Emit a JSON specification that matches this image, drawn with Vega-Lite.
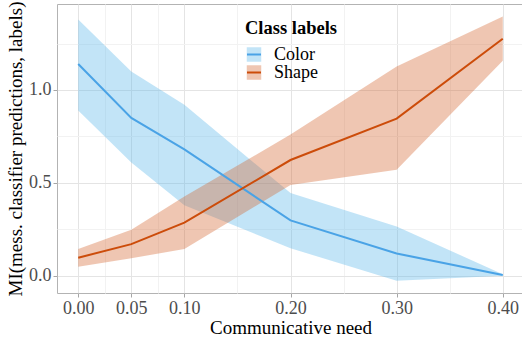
{
  "$schema": "https://vega.github.io/schema/vega-lite/v6.json",
  "width": 467,
  "height": 289,
  "autosize": {"type": "none"},
  "padding": {"left": 57, "top": 4, "right": 0, "bottom": 47},
  "background": "white",
  "config": {
    "font": "Liberation Serif, serif",
    "view": {"stroke": "#B3B3B3", "strokeWidth": 1},
    "axis": {
      "domain": false,
      "labelFont": "Liberation Serif, serif",
      "titleFont": "Liberation Serif, serif",
      "labelFontSize": 18,
      "titleFontSize": 19,
      "labelColor": "#4D4D4D",
      "titleColor": "#000000",
      "titleFontWeight": "normal",
      "tickColor": "#A6A6A6",
      "tickSize": 4,
      "labelPadding": 2,
      "gridColor": "#E4E4E4",
      "gridWidth": 1
    },
    "legend": {
      "labelFont": "Liberation Serif, serif",
      "titleFont": "Liberation Serif, serif",
      "labelFontSize": 18,
      "titleFontSize": 18.5,
      "titleFontWeight": "bold",
      "titleColor": "#000000",
      "labelColor": "#000000",
      "padding": 0,
      "titlePadding": 8,
      "labelOffset": 11
    }
  },
  "data": {
    "values": [
      {"series": "Color", "need": 0.0, "mean": 1.14, "lo": 0.89, "hi": 1.38},
      {"series": "Color", "need": 0.05, "mean": 0.85, "lo": 0.61, "hi": 1.1},
      {"series": "Color", "need": 0.1, "mean": 0.68, "lo": 0.38, "hi": 0.92},
      {"series": "Color", "need": 0.2, "mean": 0.298, "lo": 0.148, "hi": 0.445},
      {"series": "Color", "need": 0.3, "mean": 0.12, "lo": -0.027, "hi": 0.265},
      {"series": "Color", "need": 0.4, "mean": 0.004, "lo": 0.0, "hi": 0.008},
      {"series": "Shape", "need": 0.0, "mean": 0.097, "lo": 0.049, "hi": 0.144},
      {"series": "Shape", "need": 0.05, "mean": 0.17, "lo": 0.094, "hi": 0.247},
      {"series": "Shape", "need": 0.1, "mean": 0.286, "lo": 0.144, "hi": 0.426},
      {"series": "Shape", "need": 0.2, "mean": 0.623, "lo": 0.489, "hi": 0.76},
      {"series": "Shape", "need": 0.3, "mean": 0.846, "lo": 0.571, "hi": 1.126},
      {"series": "Shape", "need": 0.4, "mean": 1.276, "lo": 1.157, "hi": 1.396}
    ]
  },
  "layer": [
    {
      "mark": {"type": "area", "fillOpacity": 0.36},
      "encoding": {
        "x": {
          "field": "need",
          "type": "quantitative",
          "scale": {"domain": [-0.02, 0.42], "nice": false, "zero": false},
          "axis": {"orient": "bottom", "values": [0.025, 0.075, 0.15, 0.25, 0.35], "labels": false, "ticks": false, "title": null, "grid": true, "gridColor": "#F2F2F2"}
        },
        "y": {
          "field": "lo",
          "type": "quantitative",
          "scale": {"domain": [-0.093, 1.463], "nice": false, "zero": false},
          "axis": {"orient": "left", "values": [0.25, 0.75, 1.25], "labels": false, "ticks": false, "title": null, "grid": true, "gridColor": "#F2F2F2"}
        },
        "y2": {"field": "hi"},
        "fill": {
          "field": "series",
          "type": "nominal",
          "scale": {"domain": ["Color", "Shape"], "range": ["#56B4E9", "#D4622A"]},
          "legend": {"title": "Class labels", "orient": "none", "legendX": 188, "legendY": 15, "rowPadding": -5, "symbolType": "square", "symbolSize": 210, "symbolOpacity": 0.36, "symbolStrokeWidth": 0}
        }
      }
    },
    {
      "mark": {"type": "line", "strokeWidth": 2},
      "encoding": {
        "x": {
          "field": "need",
          "type": "quantitative",
          "axis": {"orient": "bottom", "values": [0, 0.05, 0.1, 0.2, 0.3, 0.4], "format": ".2f", "title": "Communicative need", "grid": true, "titlePadding": 1}
        },
        "y": {
          "field": "mean",
          "type": "quantitative",
          "axis": {"orient": "left", "values": [0, 0.5, 1.0], "format": ".1f", "title": "MI(mess. classifier predictions, labels)", "grid": true, "titlePadding": 3}
        },
        "stroke": {
          "field": "series",
          "type": "nominal",
          "scale": {"range": ["#4AA3E6", "#CC4C0A"]},
          "legend": {"title": null, "labelExpr": "''", "orient": "none", "legendX": 188, "legendY": 41.5, "rowPadding": -5, "symbolType": "stroke", "symbolSize": 196, "symbolStrokeWidth": 2}
        }
      }
    }
  ],
  "resolve": {
    "scale": {"fill": "independent", "stroke": "independent"},
    "axis": {"x": "independent", "y": "independent"}
  }
}
